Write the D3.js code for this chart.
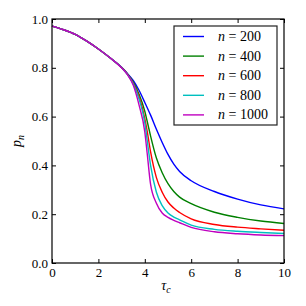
<!DOCTYPE html>
<html>
<head>
<meta charset="utf-8">
<script src="https://cdn.jsdelivr.net/npm/d3@7"></script>
<style>
  html, body { margin: 0; padding: 0; background: #fff; }
  svg { display: block; }
  text { font-family: "Liberation Serif", "Times New Roman", "DejaVu Serif", serif; fill: #000; }
</style>
</head>
<body>
<div id="chart"></div>
<script>
// tau_c grid shared by every curve
const tau = [0, 0.5, 1, 1.5, 2, 2.5, 3, 3.25, 3.5, 3.75, 4, 4.1, 4.25, 4.5, 4.75, 5, 5.25, 5.5, 6, 7, 8, 9, 10];

const p200  = [0.971, 0.956, 0.937, 0.909, 0.877, 0.841, 0.802, 0.777, 0.748, 0.708, 0.658, 0.637, 0.606, 0.548, 0.494, 0.445, 0.405, 0.375, 0.337, 0.293, 0.262, 0.238, 0.222];
const p400  = [0.971, 0.956, 0.937, 0.909, 0.877, 0.841, 0.801, 0.775, 0.741, 0.692, 0.622, 0.582, 0.520, 0.430, 0.370, 0.325, 0.293, 0.270, 0.243, 0.208, 0.187, 0.172, 0.162];
const p600  = [0.971, 0.956, 0.937, 0.909, 0.877, 0.841, 0.801, 0.774, 0.737, 0.682, 0.592, 0.542, 0.455, 0.350, 0.290, 0.250, 0.225, 0.207, 0.181, 0.158, 0.147, 0.140, 0.134];
const p800  = [0.971, 0.956, 0.937, 0.909, 0.877, 0.841, 0.801, 0.773, 0.734, 0.673, 0.575, 0.505, 0.400, 0.290, 0.235, 0.205, 0.188, 0.177, 0.155, 0.138, 0.130, 0.125, 0.121];
const p1000 = [0.971, 0.956, 0.937, 0.909, 0.877, 0.841, 0.800, 0.772, 0.729, 0.648, 0.537, 0.452, 0.322, 0.245, 0.205, 0.187, 0.175, 0.165, 0.146, 0.128, 0.120, 0.115, 0.112];

const seriesNs = ['200', '400', '600', '800', '1000'];
const seriesValues = [p200, p400, p600, p800, p1000];
const seriesColors = ['#0000ff', '#008000', '#ff0000', '#00bfbf', '#bf00bf'];

const xTicks = [0, 2, 4, 6, 8, 10];
const yTicks = [0, 0.2, 0.4, 0.6, 0.8, 1.0];

const W = 306, H = 306;
const margin = { left: 52, top: 19, right: 22, bottom: 43 };
const iw = W - margin.left - margin.right;
const ih = H - margin.top - margin.bottom;

const svg = d3.select('#chart').append('svg').attr('width', W).attr('height', H);
const g = svg.append('g').attr('transform', `translate(${margin.left},${margin.top})`);

const x = d3.scaleLinear().domain([0, 10]).range([0, iw]);
const y = d3.scaleLinear().domain([0, 1]).range([ih, 0]);

// axes: ticks point inward, labels only on bottom/left
g.append('g').attr('transform', `translate(0,${ih})`)
  .call(d3.axisBottom(x).tickValues(xTicks).tickSize(-4).tickPadding(5).tickFormat(d3.format('d')));
g.append('g')
  .call(d3.axisLeft(y).tickValues(yTicks).tickSize(-4).tickPadding(4).tickFormat(d3.format('.1f')));
g.append('g')
  .call(d3.axisTop(x).tickValues(xTicks).tickSize(-4).tickFormat(''));
g.append('g').attr('transform', `translate(${iw},0)`)
  .call(d3.axisRight(y).tickValues(yTicks).tickSize(-4).tickFormat(''));

g.selectAll('.domain').remove();
g.selectAll('.tick line').attr('stroke', '#000').attr('stroke-width', 1);
g.selectAll('.tick text')
  .attr('font-family', null)
  .style('font-size', '13px')
  .style('font-family', '"Liberation Serif", "Times New Roman", serif');

const line = d3.line()
  .x((d, i) => x(tau[i]))
  .y(d => y(d))
  .curve(d3.curveMonotoneX);

seriesValues.forEach((vals, k) => {
  g.append('path').datum(vals)
    .attr('fill', 'none')
    .attr('stroke', seriesColors[k])
    .attr('stroke-width', 1.4)
    .attr('d', line);
});

// frame
g.append('rect').attr('width', iw).attr('height', ih)
  .attr('fill', 'none').attr('stroke', '#000').attr('stroke-width', 1.2);

// axis labels
const xl = svg.append('text')
  .attr('x', margin.left + iw / 2 - 2).attr('y', 290)
  .attr('text-anchor', 'middle').style('font-size', '14px');
xl.append('tspan').style('font-style', 'italic').text('τ');
xl.append('tspan').attr('dy', 3).style('font-style', 'italic').style('font-size', '10px').text('c');

const yl = svg.append('text')
  .attr('transform', `translate(21,${margin.top + ih / 2}) rotate(-90)`)
  .attr('text-anchor', 'middle').style('font-size', '14px');
yl.append('tspan').style('font-style', 'italic').text('p');
yl.append('tspan').attr('dy', 3).style('font-style', 'italic').style('font-size', '10px').text('n');

// legend
const leg = g.append('g').attr('transform', 'translate(122,7)');
leg.append('rect').attr('width', 103).attr('height', 99)
  .attr('fill', '#fff').attr('stroke', '#222').attr('stroke-width', 1.2);
seriesNs.forEach((nv, k) => {
  const ry = 10.5 + k * 19.6;
  leg.append('line').attr('x1', 9).attr('x2', 30).attr('y1', ry).attr('y2', ry)
    .attr('stroke', seriesColors[k]).attr('stroke-width', 1.4);
  const t = leg.append('text').attr('x', 44).attr('y', ry + 4.5).style('font-size', '14px');
  t.append('tspan').style('font-style', 'italic').text('n');
  t.append('tspan').text(' = ' + nv);
});
</script>
</body>
</html>
